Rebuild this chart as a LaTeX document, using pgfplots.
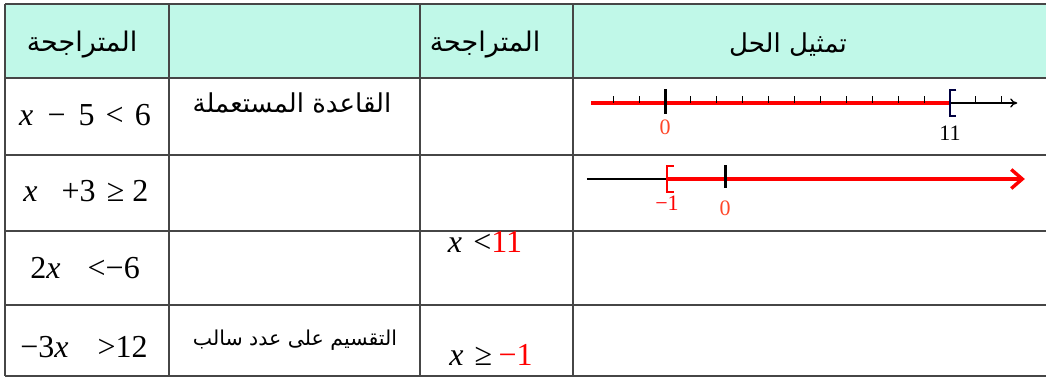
\documentclass[border=0pt]{standalone}
\usepackage{pgfplots}
\pgfplotsset{compat=1.18}
\usepackage{fontspec}
\usetikzlibrary{arrows.meta}
\setmainfont{Liberation Serif}
\newfontfamily\arfont[Script=Arabic]{DejaVu Sans}
\TeXXeTstate=1
\definecolor{mint}{RGB}{192,248,232}
\definecolor{gridc}{RGB}{70,70,70}
\definecolor{zred}{RGB}{255,70,40}
\newcommand{\mt}{\fontsize{32}{36}\selectfont}
\newcommand{\fs}[1]{\fontsize{#1}{#1}\selectfont}
\begin{document}
\begin{tikzpicture}
\begin{axis}[at={(0,0)},anchor=south west,
  width=1046pt,height=378pt,scale only axis,
  xmin=0,xmax=1046,ymin=0,ymax=378,y dir=reverse,
  hide axis,clip=false]
  % header fill
  \fill[mint] (axis cs:5,4) rectangle (axis cs:1046,78);
  % grid
  \foreach \yy in {4,78,155,231,305,376}{
    \edef\temp{\noexpand\draw[gridc,line width=2.4pt] (axis cs:5,\yy) -- (axis cs:1046,\yy);}\temp
  }
  \foreach \xx in {5,169,420,573}{
    \edef\temp{\noexpand\draw[gridc,line width=2.4pt] (axis cs:\xx,4) -- (axis cs:\xx,376);}\temp
  }
  % header texts
  \node at (axis cs:82,45) {\fs{27}\arfont\beginR المتراجحة\endR};
  \node at (axis cs:485,45) {\fs{27}\arfont\beginR المتراجحة\endR};
  \node at (axis cs:788,45) {\fs{26}\arfont\beginR تمثيل الحل\endR};
  % column 2 texts
  \node at (axis cs:292,103) {\fs{26}\arfont\beginR القاعدة المستعملة\endR};
  \node at (axis cs:295,340) {\fs{20.5}\arfont\beginR التقسيم على عدد سالب\endR};
  % column 1 inequalities
  \node at (axis cs:85,115) {\mt\textit{x}\hspace{0.45em}−\hspace{0.4em}5\hspace{0.35em}<\hspace{0.35em}6};
  \node at (axis cs:86,191) {\mt\textit{x}\hspace{0.75em}+3\hspace{0.35em}≥\hspace{0.25em}2};
  \node at (axis cs:85,268) {\mt 2\textit{x}\hspace{0.85em}<−6};
  \node at (axis cs:84,347) {\mt −3\textit{x}\hspace{0.9em}>12};
  % column 3 results
  \node at (axis cs:485,242) {\mt\textit{x}\hspace{0.35em}<\textcolor{red}{11}};
  \node at (axis cs:491,355) {\mt\textit{x}\hspace{0.35em}≥\hspace{0.2em}\textcolor{red}{−1}};
\end{axis}
% number line 1 : x < 11
\begin{axis}[at={(574.35pt,275pt)},anchor=west,
  width=466.2pt,height=40pt,scale only axis,
  xmin=-3.5,xmax=14.5,ymin=-1,ymax=1,hide axis,clip=false]
  \addplot[black,line width=1.3pt,-{To[length=7pt,width=9pt]}] coordinates {(11,0) (13.6,0)};
  \addplot[red,line width=4pt] coordinates {(-2.85,0) (11,0)};
  \addplot[black,ycomb,line width=1pt] coordinates {(-2,0.35) (-1,0.35) (1,0.35) (2,0.35) (3,0.35) (4,0.35) (5,0.35) (6,0.35) (7,0.35) (8,0.35) (9,0.35) (10,0.35) (12,0.35) (13,0.35)};
  \addplot[black,line width=3pt] coordinates {(0,-0.55) (0,0.7)};
  \addplot[black!75!blue,line width=1.3pt] coordinates {(11.25,0.65) (11,0.65) (11,-0.65) (11.25,-0.65)};
  \node[zred] at (axis cs:0,-1.2) {\fs{22}0};
  \node[black] at (axis cs:11,-1.5) {\fs{22}11};
\end{axis}
% number line 2 : x >= -1
\begin{axis}[at={(574.2pt,199pt)},anchor=west,
  width=464pt,height=40pt,scale only axis,
  xmin=-2.6,xmax=5.4,ymin=-1,ymax=1,hide axis,clip=false]
  \addplot[black,line width=1.3pt] coordinates {(-2.38,0) (-1,0)};
  \addplot[red,line width=3.4pt,-{Straight Barb[length=11pt,width=19pt]}] coordinates {(-1,0) (5.17,0)};
  \addplot[black,line width=3pt] coordinates {(0,-0.45) (0,0.7)};
  \addplot[red,line width=1.3pt] coordinates {(-0.88,0.65) (-1,0.65) (-1,-0.65) (-0.88,-0.65)};
  \node[red] at (axis cs:-1,-1.2) {\fs{22}−1};
  \node[zred] at (axis cs:0,-1.45) {\fs{22}0};
\end{axis}
\pgfresetboundingbox
\path (0,0) rectangle (1046pt,378pt);
\end{tikzpicture}
\end{document}
